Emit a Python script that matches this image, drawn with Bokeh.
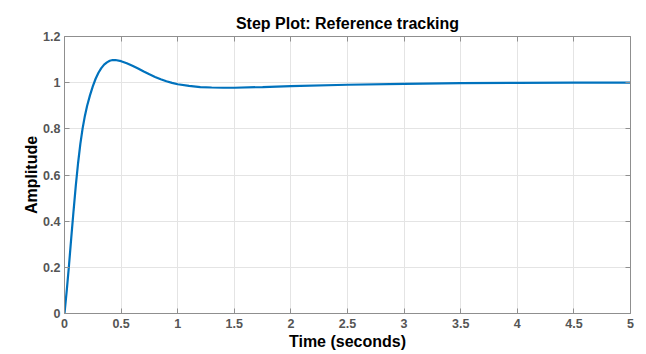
from bokeh.plotting import figure
from bokeh.models import LinearAxis, Range1d, FixedTicker
from bokeh.embed import file_html
from bokeh.resources import INLINE

# Step response
time_s = [0.0, 0.02, 0.04, 0.06, 0.08, 0.10, 0.12, 0.14, 0.16, 0.18,
          0.20, 0.225, 0.25, 0.275, 0.30, 0.325, 0.35, 0.375, 0.40, 0.425,
          0.45, 0.50, 0.55, 0.60, 0.65, 0.70, 0.75, 0.80, 0.85, 0.90,
          0.95, 1.0, 1.1, 1.2, 1.3, 1.4, 1.5, 1.75, 2.0, 2.5,
          3.0, 3.5, 4.0, 4.5, 5.0]
amplitude = [0.0, 0.1, 0.21, 0.33, 0.445, 0.555, 0.652, 0.735, 0.802, 0.856,
             0.900, 0.945, 0.984, 1.017, 1.043, 1.063, 1.078, 1.088, 1.095, 1.098,
             1.098, 1.093, 1.084, 1.073, 1.061, 1.048, 1.036, 1.025, 1.015, 1.006,
             0.999, 0.993, 0.986, 0.981, 0.979, 0.978, 0.978, 0.981, 0.985, 0.991,
             0.995, 0.998, 0.999, 1.0, 1.0]

x_ticks = [0, 0.5, 1, 1.5, 2, 2.5, 3, 3.5, 4, 4.5, 5]
x_tick_labels = ["0", "0.5", "1", "1.5", "2", "2.5", "3", "3.5", "4", "4.5", "5"]
y_ticks = [0, 0.2, 0.4, 0.6, 0.8, 1.0, 1.2]
y_tick_labels = ["0", "0.2", "0.4", "0.6", "0.8", "1", "1.2"]

title_text = "Step Plot: Reference tracking"
x_label_text = "Time (seconds)"
y_label_text = "Amplitude"

FONT = "Liberation Sans"
AXIS_COL = "#8f8f8f"
TICK_TXT = "#555555"
W, H = 646, 354

p = figure(width=W, height=H, output_backend="svg", toolbar_location=None,
           x_range=Range1d(0, 5), y_range=Range1d(0, 1.2), title=title_text,
           min_border_left=64, min_border_right=16, min_border_top=36, min_border_bottom=41)
p.background_fill_color = "white"
p.border_fill_color = "white"
p.outline_line_color = None

p.title.align = "center"
p.title.text_font = FONT
p.title.text_font_size = "16px"
p.title.text_font_style = "bold"
p.title.text_color = "#000000"
p.title.standoff = 9

p.line(time_s, amplitude, line_color="#0072BD", line_width=2.2)

for ax in p.xaxis:
    ax.ticker = FixedTicker(ticks=x_ticks)
    ax.major_label_overrides = {t: l for t, l in zip(x_ticks, x_tick_labels)}
    ax.axis_label = x_label_text
    ax.axis_label_standoff = 2
for ax in p.yaxis:
    ax.ticker = FixedTicker(ticks=y_ticks)
    ax.major_label_overrides = {t: l for t, l in zip(y_ticks, y_tick_labels)}
    ax.axis_label = y_label_text
    ax.axis_label_standoff = 0

for ax in list(p.xaxis) + list(p.yaxis):
    ax.axis_line_color = AXIS_COL
    ax.major_tick_line_color = AXIS_COL
    ax.major_tick_in = 5
    ax.major_tick_out = 0
    ax.minor_tick_line_color = None
    ax.major_label_text_font = FONT
    ax.major_label_text_font_size = "12.5px"
    ax.major_label_text_font_style = "bold"
    ax.major_label_text_color = TICK_TXT
    ax.axis_label_text_font = FONT
    ax.axis_label_text_font_size = "16px"
    ax.axis_label_text_font_style = "bold"
    ax.axis_label_text_color = "#000000"
p.xaxis.major_label_standoff = 5
p.yaxis.major_label_standoff = 4

top = LinearAxis(ticker=FixedTicker(ticks=x_ticks))
right = LinearAxis(ticker=FixedTicker(ticks=y_ticks))
for ax in (top, right):
    ax.axis_line_color = AXIS_COL
    ax.major_tick_line_color = AXIS_COL
    ax.major_tick_in = 5
    ax.major_tick_out = 0
    ax.minor_tick_line_color = None
    ax.major_label_text_font_size = "0px"
    ax.major_label_standoff = 0
p.add_layout(top, "above")
p.add_layout(right, "right")

p.xgrid.ticker = FixedTicker(ticks=x_ticks)
p.ygrid.ticker = FixedTicker(ticks=y_ticks)
p.grid.grid_line_color = "#e4e4e4"
p.grid.grid_line_width = 1

open("out.html", "w").write(file_html(p, INLINE))
